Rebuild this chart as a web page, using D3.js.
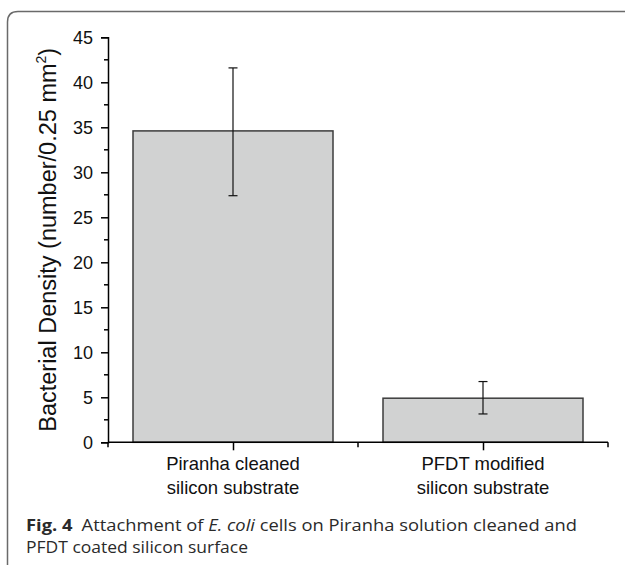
<!DOCTYPE html>
<html>
<head>
<meta charset="utf-8">
<script src="https://cdn.jsdelivr.net/npm/d3@7"></script>
<style>
  body { margin: 0; background: #fff; }
  svg { display: block; }
</style>
</head>
<body>
<div class="chart"></div>
<script>
var categories = ['Piranha cleaned\nsilicon substrate', 'PFDT modified\nsilicon substrate'];
var catPositions = [1, 3];
var densities = [34.6, 4.9];
var errLow = [27.4, 3.15];
var errHigh = [41.6, 6.75];
var yTicks = [0, 5, 10, 15, 20, 25, 30, 35, 40, 45];
var yMinorTicks = [2.5, 7.5, 12.5, 17.5, 22.5, 27.5, 32.5, 37.5, 42.5];
var xMinorTicks = [0, 2, 4];

var width = 625, height = 565;
var margin = { top: 37.3, left: 108, right: 17, bottom: 122.7 };

var svg = d3.select('.chart')
  .append('svg')
    .attr('width', width)
    .attr('height', height);

// rounded frame, cut off at right and bottom
svg.append('path')
  .attr('d', 'M7.5,640 L7.5,22 Q7.5,11.5 18,11.5 L640,11.5')
  .attr('fill', 'none')
  .attr('stroke', '#6a6a6a')
  .attr('stroke-width', 1.5);

var yScale = d3.scaleLinear()
  .domain([0, 45])
  .range([height - margin.bottom, margin.top]);

var xScale = d3.scaleLinear()
  .domain([0, 4])
  .range([margin.left, width - margin.right]);

var barHalf = 0.8;

// bars
svg.selectAll('.bar')
  .data(densities)
  .enter()
  .append('rect')
    .attr('class', 'bar')
    .attr('x', (d, i) => xScale(catPositions[i] - barHalf))
    .attr('width', xScale(barHalf * 2) - xScale(0))
    .attr('y', d => yScale(d))
    .attr('height', d => yScale(0) - yScale(d))
    .attr('fill', '#d1d2d2')
    .attr('stroke', '#3c3c3c')
    .attr('stroke-width', 1.5);

// error bars
var err = svg.selectAll('.err')
  .data(densities)
  .enter()
  .append('g')
    .attr('class', 'err')
    .attr('stroke', '#111')
    .attr('stroke-width', 1.2);

err.append('line')
  .attr('x1', (d, i) => xScale(catPositions[i]))
  .attr('x2', (d, i) => xScale(catPositions[i]))
  .attr('y1', (d, i) => yScale(errLow[i]))
  .attr('y2', (d, i) => yScale(errHigh[i]));

[errLow, errHigh].forEach(function(arr) {
  err.append('line')
    .attr('x1', (d, i) => xScale(catPositions[i]) - 4.5)
    .attr('x2', (d, i) => xScale(catPositions[i]) + 4.5)
    .attr('y1', (d, i) => yScale(arr[i]))
    .attr('y2', (d, i) => yScale(arr[i]));
});

// y axis
var yAxis = d3.axisLeft(yScale)
  .tickValues(yTicks)
  .tickSize(7)
  .tickPadding(8)
  .tickFormat(d3.format('d'));

var yG = svg.append('g')
  .attr('transform', 'translate(' + margin.left + ',0)')
  .call(yAxis);

yG.selectAll('.tick')
  .data(yMinorTicks, d => d)
  .enter()
  .append('line')
    .attr('x1', -4)
    .attr('x2', 0)
    .attr('y1', d => yScale(d))
    .attr('y2', d => yScale(d))
    .attr('stroke', '#000')
    .attr('stroke-width', 1.5);

// x axis
var xAxis = d3.axisBottom(xScale)
  .tickValues(catPositions)
  .tickSize(8)
  .tickFormat('');

var xG = svg.append('g')
  .attr('transform', 'translate(0,' + yScale(0) + ')')
  .call(xAxis);

xG.selectAll('.minor')
  .data(xMinorTicks)
  .enter()
  .append('line')
    .attr('class', 'minor')
    .attr('x1', d => xScale(d))
    .attr('x2', d => xScale(d))
    .attr('y1', 0)
    .attr('y2', 5)
    .attr('stroke', '#000')
    .attr('stroke-width', 1.5);

[yG, xG].forEach(function(g) {
  g.select('.domain').attr('stroke', '#000').attr('stroke-width', 1.5);
  g.selectAll('.tick line').attr('stroke', '#000').attr('stroke-width', 1.5);
  g.selectAll('text')
    .attr('fill', '#111')
    .style('font-family', 'Liberation Sans, Arial, sans-serif')
    .style('font-size', '18px');
});
xG.select('.domain').attr('d', 'M' + xScale(0) + ',0H' + xScale(4));

// category labels
categories.forEach(function(c, i) {
  svg.append('text')
    .attr('x', xScale(catPositions[i]))
    .attr('y', yScale(0) + 28)
    .attr('text-anchor', 'middle')
    .attr('fill', '#111')
    .style('font-family', 'Liberation Sans, Arial, sans-serif')
    .style('font-size', '18.5px')
    .selectAll('tspan')
    .data(c.split('\n'))
    .enter()
    .append('tspan')
      .attr('x', xScale(catPositions[i]))
      .attr('dy', (d, j) => j ? 24 : 0)
      .text(d => d);
});

// text label for y axis
var yTitle = svg.append('text')
  .attr('transform', 'translate(56,' + ((yScale(0) + yScale(45)) / 2) + ') rotate(-90)')
  .attr('text-anchor', 'middle')
  .attr('fill', '#111')
  .style('font-family', 'Liberation Sans, Arial, sans-serif')
  .style('font-size', '23.5px');
yTitle.append('tspan').text('Bacterial Density (number/0.25 mm');
yTitle.append('tspan').attr('dy', -10).style('font-size', '14px').text('2');
yTitle.append('tspan').attr('dy', 10).text(')');

// caption (stretched to the reference line widths)
var cap = svg.append('text')
  .attr('x', 26)
  .attr('y', 531)
  .attr('fill', '#2a2a2a')
  .attr('textLength', 551)
  .attr('lengthAdjust', 'spacingAndGlyphs')
  .style('font-family', 'Open Sans, Noto Sans, sans-serif')
  .style('font-size', '16.2px');
cap.append('tspan').style('font-weight', 'bold').text('Fig. 4');
cap.append('tspan').text('\u2002Attachment of ');
cap.append('tspan').style('font-style', 'italic').text('E. coli');
cap.append('tspan').text(' cells on Piranha solution cleaned and');

svg.append('text')
  .attr('x', 26)
  .attr('y', 553)
  .attr('fill', '#2a2a2a')
  .attr('textLength', 222)
  .attr('lengthAdjust', 'spacingAndGlyphs')
  .style('font-family', 'Open Sans, Noto Sans, sans-serif')
  .style('font-size', '16.2px')
  .text('PFDT coated silicon surface');
</script>
</body>
</html>
